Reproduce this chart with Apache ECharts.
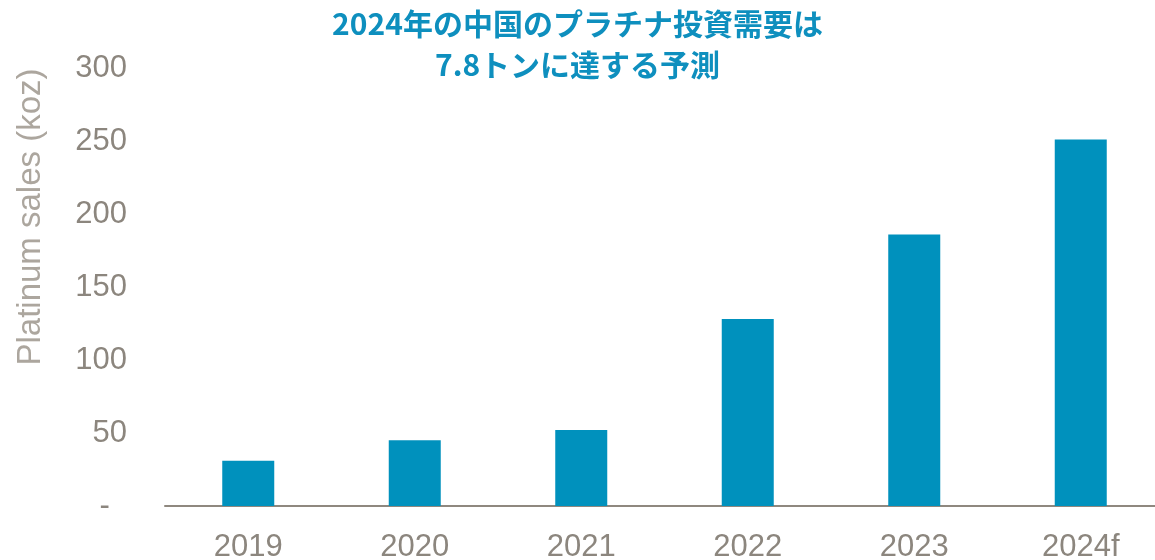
<!DOCTYPE html>
<html>
<head>
<meta charset="utf-8">
<script src="https://cdn.jsdelivr.net/npm/echarts@6/dist/echarts.min.js"></script>
<style>
html,body{margin:0;padding:0;background:#fff;}
#chart{width:1155px;height:560px;}
</style>
</head>
<body>
<div id="chart"></div>
<script>
const categories = ['2019', '2020', '2021', '2022', '2023', '2024f'];
const salesKoz = [31, 45, 52, 128, 186, 251];
const titleLines = ['2024年の中国のプラチナ投資需要は', '7.8トンに達する予測'];
const yAxisName = 'Platinum sales (koz)';

const chart = echarts.init(document.getElementById('chart'), null, {renderer: 'canvas'});
chart.setOption({
  animation: false,
  backgroundColor: '#ffffff',
  title: {
    text: titleLines.join('\n'),
    left: 'center',
    top: -2,
    textStyle: {
      fontFamily: '"Noto Sans CJK JP", "Noto Sans", sans-serif',
      fontWeight: 'bold',
      fontSize: 30,
      lineHeight: 41,
      color: '#0e8fbe'
    }
  },
  graphic: [{
    type: 'text',
    x: 31,
    y: 217,
    rotation: Math.PI / 2,
    style: {
      text: yAxisName,
      fontFamily: '"Liberation Sans", Arial, sans-serif',
      fontSize: 33,
      fill: '#aca69e',
      align: 'center',
      verticalAlign: 'middle'
    }
  }],
  grid: {left: 165, width: 999, top: 68, bottom: 54, containLabel: false, outerBoundsMode: 'none'},
  xAxis: {
    type: 'category',
    data: categories,
    axisLine: {show: true, lineStyle: {color: '#8f887f', width: 2}},
    axisTick: {show: false},
    axisLabel: {
      margin: 26,
      fontFamily: '"Liberation Sans", Arial, sans-serif',
      fontSize: 31,
      color: '#8c867e'
    }
  },
  yAxis: {
    type: 'value',
    min: 0,
    max: 300,
    interval: 50,
    axisLine: {show: false},
    axisTick: {show: false},
    splitLine: {show: false},
    axisLabel: {
      margin: 38,
      fontFamily: '"Liberation Sans", Arial, sans-serif',
      fontSize: 31,
      color: '#8c867e',
      formatter: function (v) { return v === 0 ? '-  ' : String(v); }
    }
  },
  series: [{
    type: 'bar',
    data: salesKoz,
    barWidth: 52,
    itemStyle: {color: '#0091bd'}
  }]
});
</script>
</body>
</html>
